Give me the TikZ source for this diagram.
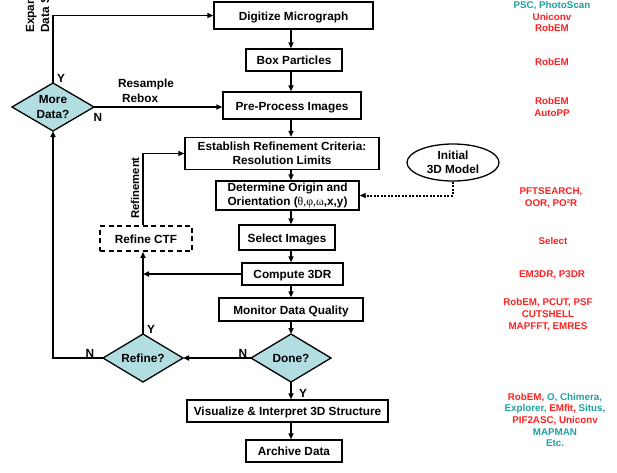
\documentclass[tikz,border=0pt]{standalone}
\usepackage{fontspec}
\setmainfont{Liberation Sans}
\newfontfamily\greekfont{Liberation Serif}
\usetikzlibrary{shapes.geometric,arrows.meta,calc}
\definecolor{tred}{RGB}{255,32,32}
\definecolor{tteal}{RGB}{32,160,160}
\definecolor{dfill}{RGB}{178,222,226}
\begin{document}
\begin{tikzpicture}[x=1pt,y=-1pt,
  box/.style={draw, line width=1.3pt, font=\bfseries\fontsize{11.8}{14}\selectfont, align=center, inner sep=0pt},
  onebox/.style={box, text height=9.5pt, text depth=0pt},
  dia/.style={draw, diamond, fill=dfill, line width=1.3pt, inner sep=0pt, outer sep=0pt},
  conn/.style={line width=1.8pt, -{Triangle[length=6pt,width=5pt]}},
  lbl/.style={font=\bfseries\fontsize{11.8}{14}\selectfont, inner sep=0pt},
  tool/.style={font=\bfseries\fontsize{9.8}{11.7}\selectfont, align=center, text=tred, inner sep=0pt}]
\clip (0,0) rectangle (617,472);
\coordinate (spine) at (291,0);

% boxes
\node[onebox, minimum width=159pt, minimum height=27pt] (dig) at (293.5,15.5) {Digitize Micrograph};
\node[onebox, minimum width=96pt, minimum height=22pt] (box) at (294,60) {Box Particles};
\node[onebox, minimum width=138pt, minimum height=27pt] (pre) at (292,105.5) {Pre-Process Images};
\node[box, minimum width=194pt, minimum height=32pt] (est) at (282,153.5) {Establish Refinement Criteria:\\Resolution Limits};
\node[box, minimum width=143pt, minimum height=29pt] (det) at (287.5,195.5) {Determine Origin and\\Orientation ({\greekfont\mdseries θ,φ,ω},x,y)};
\node[onebox, minimum width=96pt, minimum height=25pt] (sel) at (287,237.5) {Select Images};
\node[onebox, dashed, dash pattern=on 5pt off 3.5pt, line width=1.8pt, minimum width=92pt, minimum height=25pt] (ctf) at (146,238.5) {Refine CTF};
\node[onebox, minimum width=101pt, minimum height=22pt] (comp) at (292.5,274) {Compute 3DR};
\node[onebox, minimum width=144pt, minimum height=23pt] (mon) at (291,309.5) {Monitor Data Quality};
\node[onebox, minimum width=201pt, minimum height=22pt] (vis) at (287.5,411) {Visualize \& Interpret 3D Structure};
\node[onebox, minimum width=96pt, minimum height=22pt] (arc) at (294,451) {Archive Data};

% ellipse
\node[draw, ellipse, line width=1.3pt, minimum width=92pt, minimum height=37pt, inner sep=0pt, align=center, font=\bfseries\fontsize{11.8}{14}\selectfont] (model) at (453,162.5) {Initial\\3D Model};

% diamonds
\node[dia, minimum width=82pt, minimum height=48pt] (md) at (53,107) {};
\node[lbl, align=center, font=\bfseries\fontsize{11.8}{15}\selectfont] (mdt) at (md.center) {More\\Data?};
\node[dia, minimum width=80pt, minimum height=48pt] (rf) at (143,358) {};
\node[lbl, text height=9.5pt, text depth=0pt] (rft) at (rf.center) {Refine?};
\node[dia, minimum width=80pt, minimum height=48pt] (done) at (291,358) {};
\node[lbl, text height=9.5pt, text depth=0pt] (donet) at (done.center) {Done?};

% connectors
\draw[conn] (dig.south -| spine) -- (box.north -| spine);
\draw[conn] (box.south -| spine) -- (pre.north -| spine);
\draw[conn] (pre.south -| spine) -- (est.north -| spine);
\draw[conn] (est.south -| spine) -- (det.north -| spine);
\draw[conn] (det.south -| spine) -- (sel.north -| spine);
\draw[conn] (sel.south -| spine) -- (comp.north -| spine);
\draw[conn] (comp.south -| spine) -- (mon.north -| spine);
\draw[conn] (mon.south -| spine) -- (done.north);
\draw[conn] (done.south) -- (vis.north -| spine);
\draw[conn] (vis.south -| spine) -- (arc.north -| spine);
\draw[conn] (done.west) -- (rf.east);
\draw[conn] (rf.west) -| (md.south);
\draw[conn] (rf.north) -- (rf.north |- ctf.south);
\draw[conn] (comp.west) -- (rf.north |- comp.west);
\draw[conn] (rf.north |- ctf.north) |- (est.west);
\draw[conn] (md.north) |- (dig.west);
\draw[conn] (md.east) -- (pre.west |- md.east);
\draw[line width=2pt, dash pattern=on 2pt off 1.5pt, -{Triangle[length=6pt,width=5pt]}] (model.south) |- (det.east);

% labels
\node[lbl] (ymd) at (61,78) {Y};
\node[lbl] (nmd) at (98,117) {N};
\node[lbl, align=left, font=\bfseries\fontsize{11.8}{15}\selectfont] (rs) at (146,90.5) {Resample\\\hspace{4pt}Rebox};
\node[lbl, rotate=90, font=\bfseries\fontsize{11.3}{14}\selectfont] (refl) at (135,188) {Refinement};
\node[lbl] (yrf) at (151,329) {Y};
\node[lbl] (nrf) at (90,353) {N};
\node[lbl] (ndone) at (243,353) {N};
\node[lbl] (ydone) at (303,393) {Y};
\node[lbl, rotate=90, anchor=south west, align=left, font=\bfseries\fontsize{11.8}{15}\selectfont] (exp) at (49.5,33) {Expand\\Data Set};

% tools
\node[tool] (t1) at (552,16.5) {\textcolor{tteal}{PSC, PhotoScan}\\Uniconv\\RobEM};
\node[tool] (t2) at (552,62) {RobEM};
\node[tool] (t3) at (552,107) {RobEM\\AutoPP};
\node[tool] (t4) at (551,198) {PFTSEARCH,\\OOR, PO²R};
\node[tool] (t5) at (553,241) {Select};
\node[tool] (t6) at (552,275) {EM3DR, P3DR};
\node[tool] (t7) at (548,314.5) {RobEM, PCUT, PSF\\CUTSHELL\\MAPFFT, EMRES};
\node[tool, text=tteal] (t8) at (555,420) {\textcolor{tred}{RobEM,} O, Chimera,\\Explorer, \textcolor{tred}{EMfit,} Situs,\\\textcolor{tred}{PIF2ASC, Uniconv}\\MAPMAN\\Etc.};
\end{tikzpicture}
\end{document}
